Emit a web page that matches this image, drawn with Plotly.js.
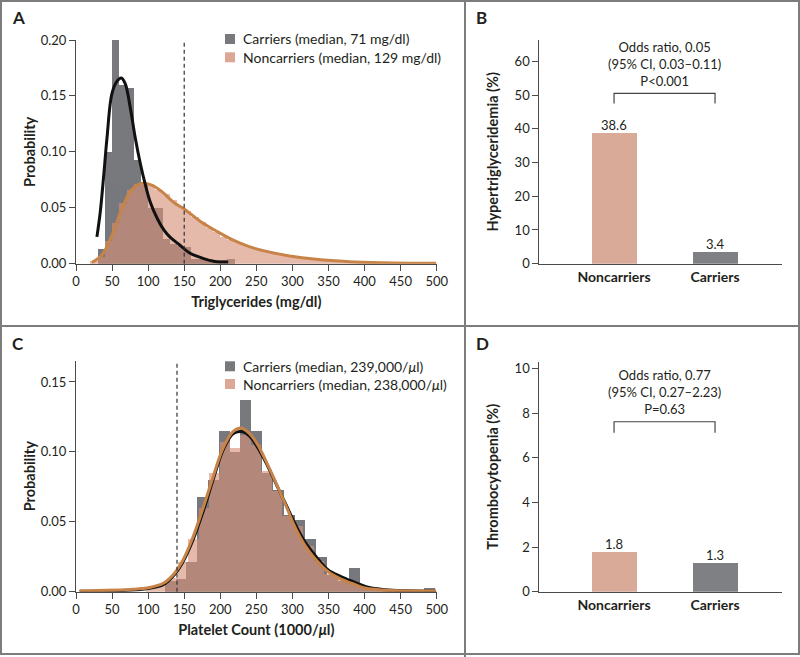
<!DOCTYPE html>
<html>
<head>
<meta charset="utf-8">
<script src="https://cdn.plot.ly/plotly-3.0.1.min.js"></script>
<style>html,body{margin:0;padding:0;background:#fff;}#chart{width:800px;height:657px;}</style>
</head>
<body>
<div id="chart"></div>
<script>
// ---------- Panel A: triglycerides (probability per 10 mg/dl bin) ----------
const trigCarrierBins = [35,45,55,65,75,85,95,105,115,125,135,145,155,165,175,185,195,205,215];
const trigCarrierProb = [0.013,0.100,0.200,0.160,0.157,0.093,0.070,0.050,0.050,0.022,0.018,0.016,0.015,0.004,0.004,0.004,0.003,0.003,0.004];
const trigNonBins = [25,35,45,55,65,75,85,95,105,115,125,135,145,155,165,175,185,195,205,215,225,235,245,255,265,275,285,295,305,315,325,335,345,355,365,375,385,395,405,415,425,435,445,455,465,475,485,495];
const trigNonProb = [0.002,0.006,0.020,0.036,0.054,0.066,0.071,0.072,0.070,0.066,0.062,0.057,0.052,0.047,0.042,0.037,0.032,0.028,0.024,0.021,0.019,0.016,0.014,0.012,0.011,0.009,0.008,0.007,0.006,0.005,0.0045,0.004,0.0035,0.003,0.0025,0.002,0.0018,0.0015,0.0012,0.0011,0.001,0.0009,0.0008,0.0007,0.0006,0.0005,0.0005,0.0004];
const trigCarrierCurveX = [29,33.6,38.3,42.9,49.8,56.7,62.7,68.2,75.1,82,89,96,103,113,122,130,143.8,157.6,176,194.5,211];
const trigCarrierCurveY = [0.024,0.046,0.078,0.112,0.152,0.163,0.166,0.161,0.140,0.113,0.090,0.071,0.055,0.040,0.030,0.024,0.0167,0.0095,0.0048,0.0018,0.0015];
const trigNonCurveX = [22,36,50,64,77,91,105,119,137,150,172,195,218,241,264,296,333,379,425,499];
const trigNonCurveY = [0.001,0.0077,0.0256,0.0495,0.066,0.0718,0.0703,0.0644,0.054,0.049,0.038,0.029,0.021,0.015,0.011,0.0069,0.0039,0.0018,0.0009,0.0003];
const trigThreshold = 150;

// ---------- Panel B: hypertriglyceridemia ----------
const groups = ["Noncarriers", "Carriers"];
const hyperTrigPct = [38.6, 3.4];

// ---------- Panel C: platelet count ----------
const pltCarrierBins = [130.5,145.5,160.5,175.5,190.5,205.5,220.5,235.5,250.5,265.5,280.5,295.5,310.5,325.5,340.5,355.5,370.5,385.5,400.5,415.5,430.5,445.5,460.5,475.5,490.5];
const pltCarrierProb = [0.008,0.009,0.021,0.068,0.080,0.115,0.100,0.137,0.115,0.085,0.073,0.055,0.051,0.038,0.025,0.012,0.008,0.017,0.004,0.002,0.001,0,0,0,0.003];
const pltNonBins = [104.75,119.25,133.75,148.25,162.75,177.25,191.75,206.25,220.75,235.25,249.75,264.25,278.75,293.25,307.75,322.25,336.75,351.25,365.75,380.25,394.75,409.25,423.75,438.25,452.75,467.25,481.75,496.25];
const pltNonProb = [0.003,0.005,0.0095,0.021,0.038,0.060,0.085,0.107,0.1025,0.112,0.105,0.086,0.072,0.054,0.047,0.033,0.022,0.013,0.0095,0.006,0.004,0.002,0.0015,0.001,0.001,0.0005,0.0005,0.0005];
const pltCarrierCurveX = [5,79,102,121,134.5,148.4,162.2,176,190,203.7,217.6,230,241,252,263.7,277.5,291.3,303.2,317,331,349.5,368,386,402,425,448,499];
const pltCarrierCurveY = [0.0003,0.0012,0.0025,0.005,0.011,0.0215,0.037,0.057,0.080,0.101,0.113,0.1145,0.111,0.103,0.092,0.077,0.062,0.049,0.0358,0.0262,0.0155,0.0107,0.0068,0.0035,0.0015,0.0008,0.0004];
const pltNonCurveX = [5,79,102,121,134.5,148.4,162.2,176,190,203.7,217.6,229,240.7,252,263.7,277.5,291.3,303.2,317,331,349.5,368,386,402,425,448,499];
const pltNonCurveY = [0.0005,0.0017,0.003,0.006,0.012,0.0227,0.039,0.0596,0.082,0.1025,0.1145,0.117,0.113,0.105,0.093,0.0775,0.0613,0.0465,0.0334,0.0238,0.0143,0.0088,0.0052,0.0024,0.0012,0.0007,0.0005];
const plateletThreshold = 140;

// ---------- Panel D: thrombocytopenia ----------
const thrombocytopeniaPct = [1.8, 1.3];

const orTexts = [
  "Odds ratio, 0.05<br>(95% CI, 0.03–0.11)<br>P&lt;0.001",
  "Odds ratio, 0.77<br>(95% CI, 0.27–2.23)<br>P=0.63"
];
const legendA = ["Carriers (median, 71 mg/dl)", "Noncarriers (median, 129 mg/dl)"];
const legendC = ["Carriers (median, 239,000/<i>μ</i>l)", "Noncarriers (median, 238,000/<i>μ</i>l)"];

// ---------- styles ----------
const FONT = "Lato, 'Open Sans', sans-serif";
const TXT = "#231f20";
const GREY = "rgb(120,121,125)";
const PINK = "rgb(214,146,121)";
const PINK_OP = 0.63;
const PINK_SWATCH = "rgb(220,168,149)";
const BAR_PINK = "rgb(217,170,152)";
const BAR_GREY = "rgb(127,128,132)";
const ORANGE = "rgb(200,132,72)";
const AXIS = "#4a4a4a";
const W = 800, H = 657;
const px = v => v / W;
const py = v => 1 - v / H;

const traces = [
  // Panel A
  {type:"bar", x:trigCarrierBins, y:trigCarrierProb, width:10, xaxis:"x", yaxis:"y",
   marker:{color:GREY, line:{width:0}}, name:legendA[0], showlegend:false, hoverinfo:"skip"},
  {type:"bar", x:trigNonBins, y:trigNonProb, width:10, xaxis:"x", yaxis:"y",
   marker:{color:PINK, line:{width:0}}, opacity:PINK_OP, name:legendA[1], showlegend:false, hoverinfo:"skip"},
  {type:"scatter", mode:"lines", x:trigNonCurveX, y:trigNonCurveY, xaxis:"x", yaxis:"y",
   line:{color:ORANGE, width:3, shape:"spline"}, showlegend:false},
  {type:"scatter", mode:"lines", x:trigCarrierCurveX, y:trigCarrierCurveY, xaxis:"x", yaxis:"y",
   line:{color:"#111", width:3, shape:"spline"}, showlegend:false},
  // Panel B
  {type:"bar", x:[0,1], y:hyperTrigPct, width:0.445, xaxis:"x2", yaxis:"y2",
   marker:{color:[BAR_PINK, BAR_GREY], line:{width:0}}, showlegend:false},
  // Panel C
  {type:"bar", x:pltCarrierBins, y:pltCarrierProb, width:15, xaxis:"x3", yaxis:"y3",
   marker:{color:GREY, line:{width:0}}, name:legendC[0], showlegend:false, hoverinfo:"skip"},
  {type:"bar", x:pltNonBins, y:pltNonProb, width:14.5, xaxis:"x3", yaxis:"y3",
   marker:{color:PINK, line:{width:0}}, opacity:PINK_OP, name:legendC[1], showlegend:false, hoverinfo:"skip"},
  {type:"scatter", mode:"lines", x:pltCarrierCurveX, y:pltCarrierCurveY, xaxis:"x3", yaxis:"y3",
   line:{color:"#111", width:3, shape:"spline"}, showlegend:false},
  {type:"scatter", mode:"lines", x:pltNonCurveX, y:pltNonCurveY, xaxis:"x3", yaxis:"y3",
   line:{color:ORANGE, width:3, shape:"spline"}, showlegend:false},
  // Panel D
  {type:"bar", x:[0,1], y:thrombocytopeniaPct, width:0.445, xaxis:"x4", yaxis:"y4",
   marker:{color:[BAR_PINK, BAR_GREY], line:{width:0}}, showlegend:false}
];

const tickFont = {family:FONT, size:13, color:TXT};
const titleFont = {family:FONT, size:14.5, color:TXT, weight:"bold"};
function histX(domain, anchor, title){
  return {domain:domain, anchor:anchor, range:[0,500], tick0:0, dtick:50, showline:true, linecolor:AXIS, linewidth:1,
    ticks:"outside", ticklen:6, tickcolor:AXIS, tickfont:tickFont, showgrid:false, zeroline:false,
    title:{text:title, font:titleFont, standoff:8}, fixedrange:true};
}
function histY(domain, anchor, range, dtick){
  return {domain:domain, anchor:anchor, range:range, dtick:dtick, tickformat:".2f", showline:true, linecolor:AXIS, linewidth:1,
    ticks:"outside", ticklen:6, tickcolor:AXIS, tickfont:tickFont, showgrid:false, zeroline:false,
    title:{text:"Probability", font:titleFont, standoff:1}, fixedrange:true};
}
function catX(domain, anchor){
  return {domain:domain, anchor:anchor, range:[-0.74,1.66], tickvals:[0,1], ticktext:groups.map(g=>"<b>"+g+"</b>"),
    showline:true, linecolor:AXIS, linewidth:1, ticks:"", tickfont:{family:FONT, size:14, color:TXT},
    showgrid:false, zeroline:false, fixedrange:true};
}
function pctY(domain, anchor, range, dtick, title){
  return {domain:domain, anchor:anchor, range:range, dtick:dtick, showline:true, linecolor:AXIS, linewidth:1,
    ticks:"outside", ticklen:6, tickcolor:AXIS, tickfont:tickFont, showgrid:false, zeroline:false,
    title:{text:title, font:titleFont, standoff:12}, fixedrange:true};
}

const domXA = [px(76), px(436.7)];
const domXB = [px(539.3), px(781.7)];
const domYtop = [py(263.7), py(40)];
const domYbot = [py(591.7), py(360.7)];

// value labels over the bars of B and D, placed from the data
const valueLabels = [];
hyperTrigPct.forEach((v,i) => valueLabels.push({xref:"x2", yref:"y2", x:i, y:v, yanchor:"bottom", xanchor:"center",
  text:v.toFixed(1), showarrow:false, font:{family:FONT, size:13, color:TXT}, yshift:-2}));
thrombocytopeniaPct.forEach((v,i) => valueLabels.push({xref:"x4", yref:"y4", x:i, y:v, yanchor:"bottom", xanchor:"center",
  text:v.toFixed(1), showarrow:false, font:{family:FONT, size:13, color:TXT}, yshift:-2}));

// legends (swatch + label) for panels A and C
function legendItems(labels, rowsY){
  const shapes = [], ann = [];
  const colors = [GREY, PINK_SWATCH];
  labels.forEach((t,i) => {
    shapes.push({type:"rect", xref:"paper", yref:"paper", x0:px(225), x1:px(235), y0:py(rowsY[i]+5), y1:py(rowsY[i]-5),
      fillcolor:colors[i], line:{width:0}});
    ann.push({xref:"paper", yref:"paper", x:px(241), y:py(rowsY[i]), xanchor:"left", yanchor:"middle", text:t,
      showarrow:false, font:{family:FONT, size:14, color:TXT}});
  });
  return {shapes, ann};
}
const legA = legendItems(legendA, [39, 57.3]);
const legC = legendItems(legendC, [366.3, 384]);

const dash = {color:"#333", width:1.2, dash:"4px,3px"};

const layout = {
  width:W, height:H, autosize:false,
  margin:{l:0, r:0, t:0, b:0},
  paper_bgcolor:"#fff", plot_bgcolor:"rgba(0,0,0,0)",
  font:{family:FONT, color:TXT},
  barmode:"overlay", bargap:0, showlegend:false,
  xaxis: histX(domXA, "y", "Triglycerides (mg/dl)"),
  yaxis: histY(domYtop, "x", [0,0.2], 0.05),
  xaxis2: catX(domXB, "y2"),
  yaxis2: pctY(domYtop, "x2", [0,66.3], 10, "Hypertriglyceridemia (%)"),
  xaxis3: histX(domXA, "y3", "Platelet Count (1000/<i>μ</i>l)"),
  yaxis3: histY(domYbot, "x3", [0,0.1652], 0.05),
  xaxis4: catX(domXB, "y4"),
  yaxis4: pctY([py(591.7), py(361.7)], "x4", [0,10.3], 2, "Thrombocytopenia (%)"),
  shapes:[
    // frame and dividers
    {type:"rect", xref:"paper", yref:"paper", x0:px(1), x1:px(799), y0:py(654), y1:py(1), line:{color:"#7d7d7d", width:2}},
    {type:"line", xref:"paper", yref:"paper", x0:px(465), x1:px(465), y0:0, y1:1, line:{color:"#7d7d7d", width:2}},
    {type:"line", xref:"paper", yref:"paper", x0:0, x1:1, y0:py(326), y1:py(326), line:{color:"#7d7d7d", width:2}},
    // threshold lines
    {type:"line", xref:"x", yref:"y domain", x0:trigThreshold, x1:trigThreshold, y0:0, y1:1, line:dash},
    {type:"line", xref:"x3", yref:"y3 domain", x0:plateletThreshold, x1:plateletThreshold, y0:0, y1:1, line:dash},
    // comparison brackets
    {type:"path", xref:"x2", yref:"y2", path:"M0,47.5 L0,50.5 L1,50.5 L1,47.5", line:{color:"#444", width:1.2}},
    {type:"path", xref:"x4", yref:"y4", path:"M0,7.12 L0,7.61 L1,7.61 L1,7.12", line:{color:"#444", width:1.2}}
  ].concat(legA.shapes, legC.shapes),
  annotations:[
    {xref:"paper", yref:"paper", x:px(10), y:py(17), xanchor:"left", yanchor:"middle", text:"<b>A</b>", showarrow:false, font:{family:FONT, size:17, color:TXT}},
    {xref:"paper", yref:"paper", x:px(474), y:py(17), xanchor:"left", yanchor:"middle", text:"<b>B</b>", showarrow:false, font:{family:FONT, size:17, color:TXT}},
    {xref:"paper", yref:"paper", x:px(10), y:py(343), xanchor:"left", yanchor:"middle", text:"<b>C</b>", showarrow:false, font:{family:FONT, size:17, color:TXT}},
    {xref:"paper", yref:"paper", x:px(474), y:py(343), xanchor:"left", yanchor:"middle", text:"<b>D</b>", showarrow:false, font:{family:FONT, size:17, color:TXT}},
    {xref:"x2", yref:"paper", x:0.5, y:py(64), xanchor:"center", yanchor:"middle", text:orTexts[0], showarrow:false, align:"center", font:{family:FONT, size:13, color:TXT}},
    {xref:"x4", yref:"paper", x:0.5, y:py(391.7), xanchor:"center", yanchor:"middle", text:orTexts[1], showarrow:false, align:"center", font:{family:FONT, size:13, color:TXT}}
  ].concat(valueLabels, legA.ann, legC.ann)
};

Plotly.newPlot("chart", traces, layout, {staticPlot:true, displayModeBar:false});
</script>
</body>
</html>
